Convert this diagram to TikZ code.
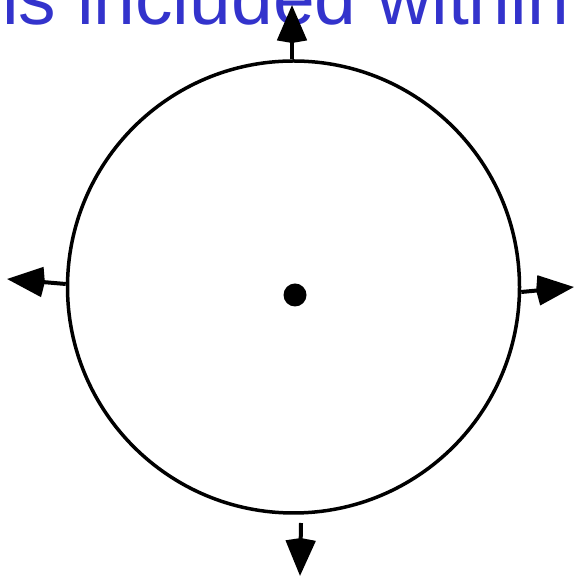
\documentclass[tikz,border=0pt]{standalone}
\usepackage{fontspec}
\setmainfont{Liberation Sans}
\usetikzlibrary{positioning,arrows.meta}
\definecolor{capblue}{RGB}{51,51,204}

\begin{document}
\begin{tikzpicture}[
    x=1pt, y=1pt,
    % Styles
    ring/.style={
        draw=black, line width=3.5pt, circle,
        minimum size=452pt, inner sep=0pt,
    },
    centredot/.style={
        fill=black, circle, minimum size=23pt, inner sep=0pt,
    },
    caption/.style={
        font=\fontsize{75}{90}\selectfont, text=capblue,
        inner sep=0pt, anchor=base west,
    },
    arr/.style={-{Stealth[length=35pt,width=29pt,inset=-3pt]}, line width=4pt, #1},
    arr/.default={black},
]
\useasboundingbox (0,0) rectangle (575,577);
\clip (0,0) rectangle (575,577);

% ================================================================
% CAPTION (cut at the top)
% ================================================================
\node[caption] (title) at (2, 552) {is included within};

% ================================================================
% CIRCLE AND CENTRE
% ================================================================
\node[ring] (ring) at (293.5, 290) {};
\node[centredot] (dot) at (295, 282) {};

% ================================================================
% ARROW ENDS
% ================================================================
\coordinate (toptip) at (292, 572);
\coordinate (lefttip) at (7, 298);
\coordinate (righttip) at (574, 290);
\coordinate (bottomstart) at (301, 54);
\coordinate (bottomtip) at (300, 1);

% ================================================================
% ARROWS
% ================================================================
\draw[arr] (ring.north -| toptip) -- (toptip);
\draw[arr] ([yshift=3pt]ring.west) -- (lefttip);
\draw[arr] ([yshift=-5pt]ring.east) -- (righttip);
\draw[arr] (bottomstart) -- (bottomtip);

\end{tikzpicture}
\end{document}
